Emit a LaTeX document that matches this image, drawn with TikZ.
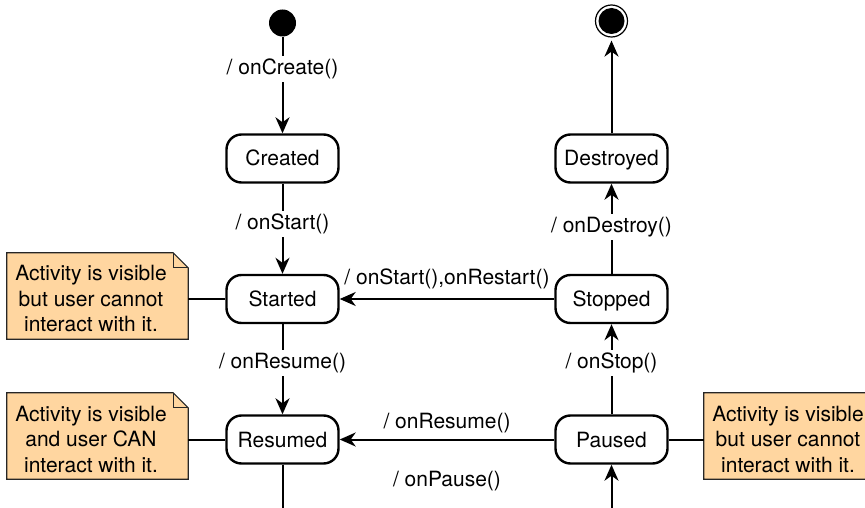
\documentclass[tikz,border=0pt]{standalone}
\usepackage{fontspec}
\setmainfont{TeX Gyre Heros}
\usetikzlibrary{arrows.meta,calc}
\definecolor{notefill}{HTML}{FFD6A0}
\newcommand{\dognote}[1]{%
  \filldraw[notebody] (#1.south west) -- (#1.south east) -- ([yshift=-15pt]#1.north east)
    -- ([xshift=-15pt]#1.north east) -- (#1.north west) -- cycle;
  \draw[notebody, fill=none] ([xshift=-15pt]#1.north east) -- ([xshift=-15pt,yshift=-15pt]#1.north east)
    -- ([yshift=-15pt]#1.north east);}
\begin{document}
\begin{tikzpicture}[x=1pt,y=-1pt,
  font=\fontsize{21}{25.5}\selectfont,
  state/.style={draw, line width=2.4pt, rounded corners=15pt, minimum width=112pt,
    minimum height=48pt, inner sep=0pt, text height=15pt, text depth=0pt},
  arr/.style={line width=2pt, -{Stealth[length=16pt,width=14pt,inset=5pt]}},
  plain/.style={line width=2pt},
  lbl/.style={fill=white, inner sep=3pt},
  hlbl/.style={inner sep=0pt},
  notegeom/.style={minimum width=181pt, minimum height=86pt, inner sep=0pt},
  notebody/.style={fill=notefill, draw=black!85, line width=1.2pt, line join=miter},
  notetext/.style={align=center, inner sep=0pt},
]
\useasboundingbox (0,0) rectangle (865,508);
\clip (0,0) rectangle (865,508);

% states
\node[circle, fill, minimum size=27pt, inner sep=0pt] (init) at (282.5,23) {};
\node[circle, draw, line width=1.2pt, minimum size=32pt, inner sep=0pt] (fin) at (611.5,21) {};
\node[circle, fill, minimum size=26pt, inner sep=0pt] (finin) at (fin) {};

\node[state] (cre) at (282.5,158.5) {Created};
\node[state] (sta) at (282.5,299) {Started};
\node[state] (res) at (282.5,439.5) {Resumed};
\node[state] (des) at (611.5,158.5) {Destroyed};
\node[state] (sto) at (611.5,299) {Stopped};
\node[state] (pau) at (611.5,439.5) {Paused};

% notes
\node[notegeom] (n1) at (97.5,296) {};
\node[notegeom] (n2) at (97.5,436) {};
\node[notegeom] (n3) at (794.5,436) {};
\dognote{n1}
\dognote{n2}
\dognote{n3}
\node[notetext] (n1t) at ($(n1.center)+(-6.5,3)$) {Activity is visible\\but user cannot\\interact with it.};
\node[notetext] (n2t) at ($(n2.center)+(-6.5,3)$) {Activity is visible\\and user CAN\\interact with it.};
\node[notetext] (n3t) at ($(n3.center)+(-6.5,3)$) {Activity is visible\\but user cannot\\interact with it.};

% transitions
\draw[arr] (init) -- node[lbl, pos=0.33] {/ onCreate()} (cre);
\draw[arr] (cre) -- node[lbl, pos=0.45] {/ onStart()} (sta);
\draw[arr] (sta) -- node[lbl, pos=0.43] {/ onResume()} (res);
\draw[arr] (sto) -- node[lbl, pos=0.52] {/ onDestroy()} (des);
\draw[arr] (pau) -- node[lbl, pos=0.57] {/ onStop()} (sto);
\draw[arr, shorten >=3pt] (des) -- (fin);
\draw[arr] (sto) -- node[hlbl, midway, above=9pt] {/ onStart(),onRestart()} (sta);
\draw[arr] (pau) -- node[hlbl, midway, above=6pt] {/ onResume()} (res);
\coordinate (bl) at (282.5,520);
\coordinate (br) at (611.5,520);
\draw[arr] (res.south) -- (bl) -- node[hlbl, midway, above=28pt] {/ onPause()} (br) -- (pau.south);

% note links
\draw[plain] (n1.east |- sta.west) -- (sta.west);
\draw[plain] (n2.east |- res.west) -- (res.west);
\draw[plain] (pau.east) -- (n3.west |- pau.east);
\end{tikzpicture}
\end{document}
